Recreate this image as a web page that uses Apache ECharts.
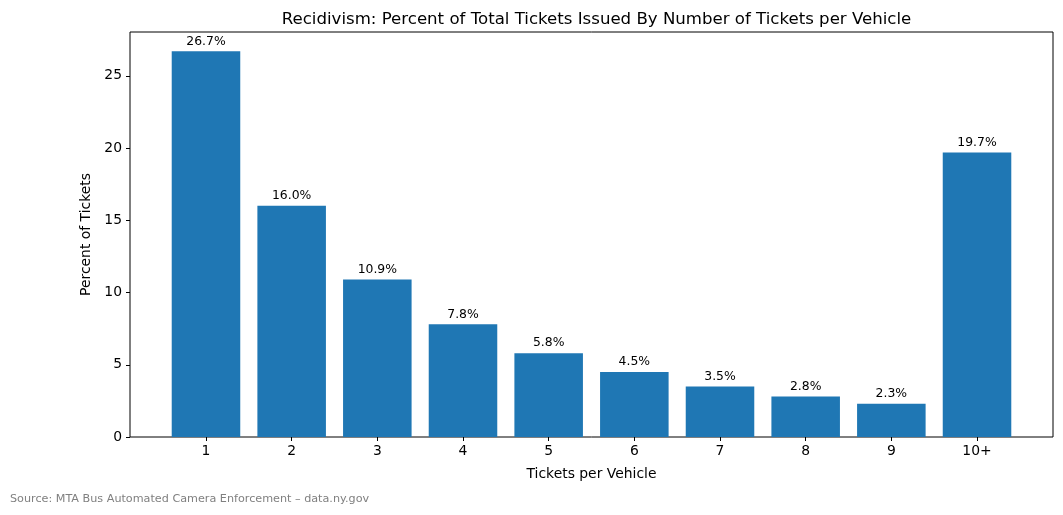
<!DOCTYPE html>
<html><head><meta charset="utf-8">
<script src="https://cdn.jsdelivr.net/npm/echarts@6/dist/echarts.min.js"></script>
<style>html,body{margin:0;padding:0;background:#fff}#c{width:1063px;height:515px}</style>
</head><body><div id="c"></div>
<script>
const categories = ['1','2','3','4','5','6','7','8','9','10+'];
const percentValues = [26.7, 16.0, 10.9, 7.8, 5.8, 4.5, 3.5, 2.8, 2.3, 19.7];
const yTicks = [0, 5, 10, 15, 20, 25];

const FONT = 'DejaVu Sans';
const yMax = 28.035;
const chart = echarts.init(document.getElementById('c'), null, {renderer: 'canvas'});
chart.setOption({
  animation: false,
  textStyle: {fontFamily: FONT},
  title: {
    text: 'Recidivism: Percent of Total Tickets Issued By Number of Tickets per Vehicle',
    left: 591.5, top: 6, textAlign: 'center',
    textStyle: {fontFamily: FONT, fontSize: 16.6, fontWeight: 'normal', color: '#000'}
  },
  graphic: [{
    type: 'text', left: 10, top: 494,
    style: {text: 'Source: MTA Bus Automated Camera Enforcement – data.ny.gov', fill: '#808080', font: '11.2px "DejaVu Sans"'}
  }],
  grid: [
    {left: 130, right: 10, top: 32, bottom: 78, show: true, borderColor: '#000', borderWidth: 1, backgroundColor: 'transparent'},
    {left: 163.15, right: 43.15, top: 32, bottom: 78}
  ],
  xAxis: [
    {gridIndex: 0, type: 'value', show: false, min: 0, max: 1},
    {gridIndex: 1, type: 'category', data: categories,
     axisLine: {show: false},
     axisTick: {show: true, alignWithLabel: true, length: 4, lineStyle: {color: '#000'}},
     axisLabel: {color: '#000', fontSize: 13.9, fontFamily: FONT, margin: 7},
     name: 'Tickets per Vehicle', nameLocation: 'middle', nameGap: 30,
     nameTextStyle: {color: '#000', fontSize: 13.9, fontFamily: FONT}}
  ],
  yAxis: [
    {gridIndex: 0, type: 'value', min: 0, max: yMax,
     splitLine: {show: false},
     axisLine: {show: false},
     axisTick: {show: true, length: 4, lineStyle: {color: '#000'}, customValues: yTicks},
     axisLabel: {color: '#000', fontSize: 13.9, fontFamily: FONT, margin: 8, customValues: yTicks},
     name: 'Percent of Tickets', nameLocation: 'middle', nameGap: 35, nameRotate: 90,
     nameTextStyle: {color: '#000', fontSize: 13.9, fontFamily: FONT}},
    {gridIndex: 1, type: 'value', min: 0, max: yMax, show: false}
  ],
  series: [{
    type: 'bar', xAxisIndex: 1, yAxisIndex: 1,
    data: percentValues, barWidth: '80%',
    itemStyle: {color: '#1f77b4'},
    label: {show: true, position: 'top', distance: 4, color: '#000', fontSize: 12.4, fontFamily: FONT,
      formatter: p => p.value.toFixed(1) + '%'}
  }]
});
</script></body></html>
